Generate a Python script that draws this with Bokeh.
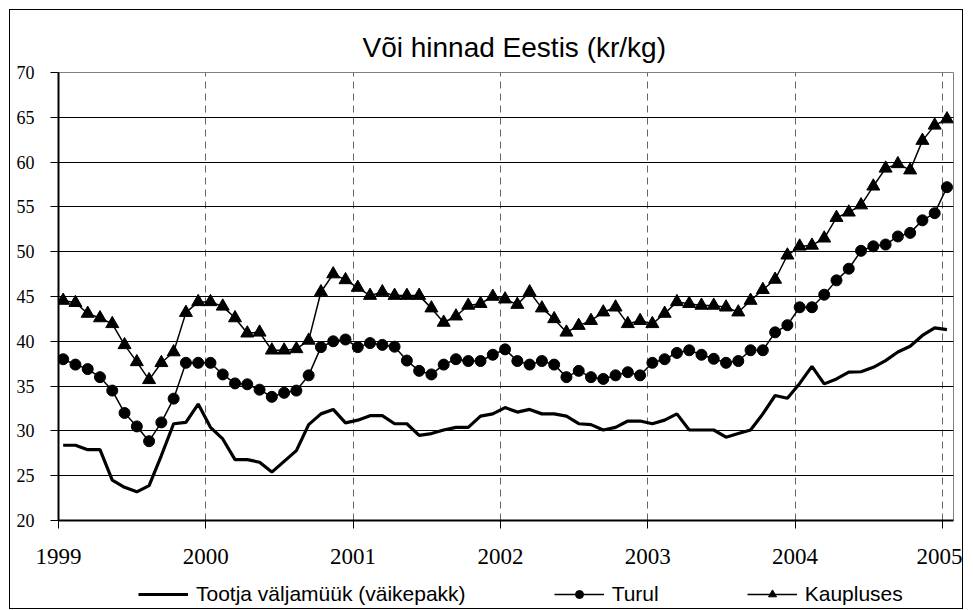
from bokeh.plotting import figure
from bokeh.layouts import column
from bokeh.models import Range1d, FixedTicker, Legend, LegendItem, ColumnDataSource
from bokeh.embed import file_html
from bokeh.resources import INLINE

title_text = "Või hinnad Eestis (kr/kg)"
series_names = ["Tootja väljamüük (väikepakk)", "Turul", "Kaupluses"]
start_year = 1999
n_months = 73  # Jan 1999 .. Jan 2005

tootja = [
    28.4, 28.4, 27.9, 27.9, 24.5, 23.7, 23.2, 23.9, 27.25, 30.8, 30.95, 33.0,
    30.4, 29.1, 26.8, 26.8, 26.5, 25.4, 26.6, 27.8, 30.7, 31.9, 32.4, 30.9,
    31.2, 31.7, 31.7, 30.8, 30.8, 29.5, 29.7, 30.1, 30.4, 30.4, 31.65, 31.9,
    32.6, 32.1, 32.4, 31.9, 31.9, 31.65, 30.8, 30.7, 30.1, 30.4, 31.1, 31.1,
    30.8, 31.2, 31.9, 30.1, 30.1, 30.1, 29.3, 29.7, 30.1, 31.9, 33.95, 33.65,
    35.3, 37.2, 35.25, 35.8, 36.55, 36.6, 37.1, 37.85, 38.8, 39.45, 40.65, 41.5,
    41.3,
]
turul = [
    38.0, 37.4, 36.9, 36.0, 34.5, 32.0, 30.5, 28.85, 30.95, 33.6, 37.6, 37.6,
    37.6, 36.3, 35.3, 35.2, 34.6, 33.8, 34.25, 34.5, 36.2, 39.35, 40.0, 40.2,
    39.35, 39.8, 39.6, 39.4, 37.85, 36.7, 36.3, 37.4, 38.0, 37.8, 37.8, 38.5,
    39.1, 37.8, 37.4, 37.8, 37.4, 36.0, 36.7, 36.0, 35.8, 36.2, 36.55, 36.2,
    37.6, 38.0, 38.7, 39.0, 38.5, 38.05, 37.6, 37.8, 39.0, 39.0, 41.0, 41.8,
    43.8, 43.8, 45.2, 46.8, 48.1, 50.1, 50.6, 50.8, 51.7, 52.1, 53.5, 54.3,
    57.2,
]
kaupluses = [
    44.55, 44.3, 43.1, 42.6, 41.95, 39.6, 37.7, 35.7, 37.6, 38.8, 43.2, 44.4,
    44.4, 43.9, 42.6, 40.9, 41.0, 39.0, 39.0, 39.15, 40.1, 45.5, 47.5, 46.85,
    46.0, 45.1, 45.5, 45.1, 45.1, 45.1, 43.7, 42.1, 42.8, 44.0, 44.2, 45.0,
    44.7, 44.1, 45.5, 43.7, 42.5, 41.0, 41.75, 42.3, 43.25, 43.8, 41.95, 42.3,
    41.95, 43.1, 44.4, 44.2, 44.0, 44.0, 43.8, 43.25, 44.55, 45.75, 46.9, 49.6,
    50.6, 50.7, 51.5, 53.8, 54.4, 55.2, 57.3, 59.3, 59.8, 59.1, 62.4, 64.1,
    64.8,
]
year_ticks = [1999, 2000, 2001, 2002, 2003, 2004, 2005]
y_ticks = [20, 25, 30, 35, 40, 45, 50, 55, 60, 65, 70]

x = [start_year + (i + 0.38) / 12.0 for i in range(n_months)]
src = ColumnDataSource(dict(x=x, tootja=tootja, turul=turul, kaupluses=kaupluses))

MB_L, MB_R = 48, 9
FW, FH = 895, 448

p = figure(
    frame_width=FW, frame_height=FH,
    x_range=Range1d(1999.0, 2005.076), y_range=Range1d(20, 70),
    output_backend="svg", toolbar_location=None,
    min_border_left=MB_L, min_border_right=MB_R, min_border_top=62, min_border_bottom=56,
    title=title_text,
)
p.background_fill_color = "white"
p.border_fill_color = "white"
p.outline_line_color = "#808080"
p.outline_line_width = 1

p.title.text_font = "Liberation Sans"
p.title.text_font_size = "28px"
p.title.text_font_style = "normal"
p.title.align = "left"
p.title.offset = 304
p.title.standoff = 20
p.title.text_color = "#000000"

# axes
p.xaxis.ticker = FixedTicker(ticks=year_ticks)
p.xaxis.major_label_overrides = {float(y): str(y) for y in year_ticks}
p.xaxis.major_label_text_font = "Liberation Serif"
p.xaxis.major_label_text_font_size = "23px"
p.xaxis.major_label_text_color = "#000000"
p.xaxis.major_tick_in = 0
p.xaxis.major_tick_out = 8
p.xaxis.minor_tick_line_color = None
p.xaxis.axis_line_width = 2
p.xaxis.axis_line_color = "#000000"
p.xaxis.major_tick_line_color = "#000000"
p.xaxis.major_label_standoff = 20

p.yaxis.ticker = FixedTicker(ticks=y_ticks)
p.yaxis.major_label_text_font = "Liberation Serif"
p.yaxis.major_label_text_font_size = "18px"
p.yaxis.major_label_text_color = "#000000"
p.yaxis.major_tick_in = 0
p.yaxis.major_tick_out = 8
p.yaxis.minor_tick_line_color = None
p.yaxis.axis_line_width = 2
p.yaxis.axis_line_color = "#000000"
p.yaxis.major_tick_line_color = "#000000"
p.yaxis.major_label_standoff = 16

# grids
p.ygrid.ticker = FixedTicker(ticks=y_ticks)
p.ygrid.grid_line_color = "#000000"
p.ygrid.grid_line_width = 1
p.xgrid.ticker = FixedTicker(ticks=year_ticks[1:])
p.xgrid.grid_line_color = "#666666"
p.xgrid.grid_line_width = 1
p.xgrid.grid_line_dash = "7 5"

# series
p.line("x", "tootja", source=src, line_color="#000000", line_width=3.2)
p.line("x", "turul", source=src, line_color="#000000", line_width=1.5)
p.scatter("x", "turul", source=src, marker="circle", size=11,
          fill_color="#000000", line_color="#000000")
p.line("x", "kaupluses", source=src, line_color="#000000", line_width=1.5)
p.scatter("x", "kaupluses", source=src, marker="triangle", size=13,
          fill_color="#000000", line_color="#000000")

# legend strip below the chart: a small figure whose ranges exclude the data,
# so only the legend entries (with their glyph samples) are visible
lg = figure(
    width=MB_L + FW + MB_R, height=32,
    x_range=Range1d(0, 1), y_range=Range1d(0, 1),
    x_axis_location=None, y_axis_location=None,
    output_backend="svg", toolbar_location=None, min_border=0,
)
lg.grid.visible = False
lg.outline_line_color = None
lg.background_fill_color = "white"
lg.border_fill_color = "white"
l_t = lg.line("x", "tootja", source=src, line_color="#000000", line_width=3.2)
l_tu_l = lg.line("x", "turul", source=src, line_color="#000000", line_width=1.5)
l_tu_s = lg.scatter("x", "turul", source=src, marker="circle", size=11,
                    fill_color="#000000", line_color="#000000")
l_k_l = lg.line("x", "kaupluses", source=src, line_color="#000000", line_width=1.5)
l_k_s = lg.scatter("x", "kaupluses", source=src, marker="triangle", size=13,
                   fill_color="#000000", line_color="#000000")

legend = Legend(
    items=[
        LegendItem(label=series_names[0], renderers=[l_t]),
        LegendItem(label=series_names[1], renderers=[l_tu_l, l_tu_s]),
        LegendItem(label=series_names[2], renderers=[l_k_l, l_k_s]),
    ],
    orientation="horizontal",
    location=(80, 2),
    glyph_width=50, glyph_height=20,
    label_standoff=8, spacing=88, padding=0, margin=0,
    border_line_color=None, background_fill_alpha=0,
    label_text_font="Liberation Sans", label_text_font_size="21px",
    label_text_color="#000000",
)
lg.add_layout(legend, "center")

layout = column(p, lg, spacing=0)
layout.styles = {"border": "1px solid #000000", "margin": "9px 0 0 9px"}

open("out.html", "w").write(file_html(layout, INLINE))
